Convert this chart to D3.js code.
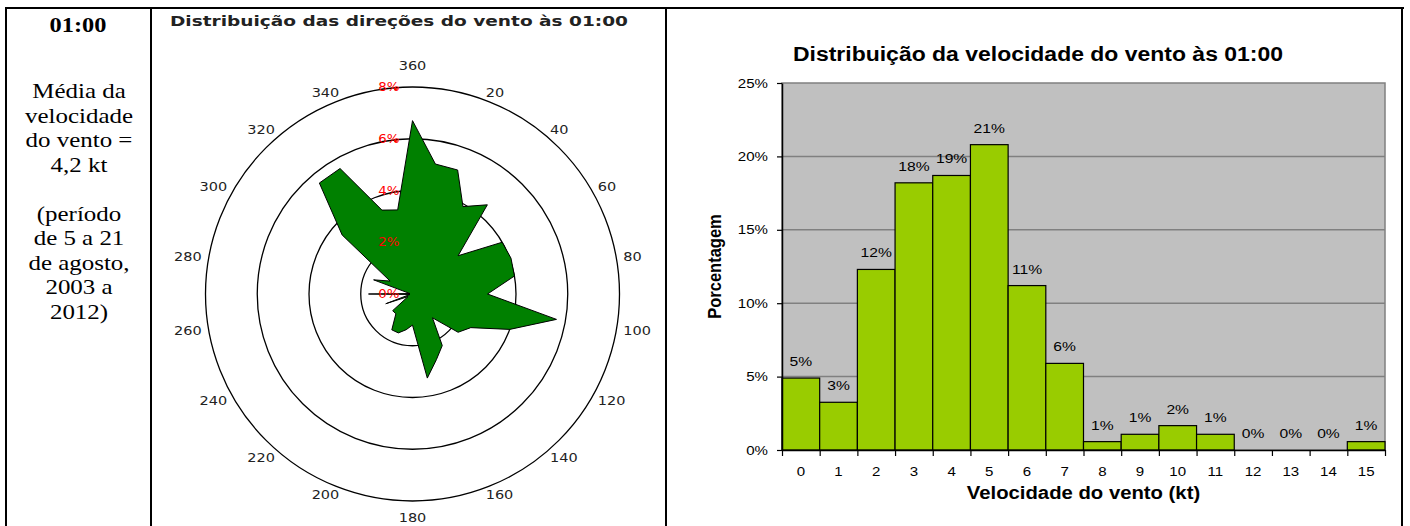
<!DOCTYPE html>
<html>
<head>
<meta charset="utf-8">
<script src="https://cdn.jsdelivr.net/npm/d3@7"></script>
<style>
  body { margin: 0; background: #fff; }
  svg { display: block; }
</style>
</head>
<body>
<script>
// ---- data ----
// wind direction distribution (%) every 10 degrees, 10 .. 360
var directions = d3.range(10, 361, 10);
var dirPercent = [5.1, 5.1, 3.9, 4.5, 2.3, 4.0, 4.05, 4.0, 2.9, 5.65,
                  4.0, 2.6, 2.3, 1.2, 2.3, 2.7, 3.3, 1.2, 1.4, 1.6,
                  1.6, 1.0, 1.0, 0.2, 1.1, 0.1, 1.7, 0.1, 1.6, 1.0,
                  3.55, 5.6, 5.6, 3.45, 3.3, 6.7];
var dirLabels = [360, 20, 40, 60, 80, 100, 120, 140, 160, 180,
                 200, 220, 240, 260, 280, 300, 320, 340];
var ringValues = [0, 2, 4, 6, 8];

// wind speed distribution (%), 0 .. 15 kt
var speeds = d3.range(0, 16);
var speedPercent = [4.9, 3.25, 12.3, 18.2, 18.7, 20.8, 11.2, 5.9,
                    0.57, 1.07, 1.66, 1.07, 0, 0, 0, 0.57];
var yTicks = [0, 5, 10, 15, 20, 25];

var infoTitle = "01:00";
var infoLines = ["Média da", "velocidade", "do vento =", "4,2 kt", "",
                 "(período", "de 5 a 21", "de agosto,", "2003 a", "2012)"];

var radarTitle = "Distribuição das direções do vento às 01:00";
var barTitle = "Distribuição da velocidade do vento às 01:00";

// the picture is a bit wider than tall, so text gets a small horizontal stretch
var SX = 1.16;
function stretched(sel, x, y) {
    return sel.attr("transform", "translate(" + x + "," + y + ") scale(" + SX + ",1)");
}

var svg = d3.select("body").append("svg")
    .attr("width", 1410)
    .attr("height", 526);

// ---- table frame ----
var frame = svg.append("g").attr("stroke", "#000").attr("stroke-width", 2);
frame.append("line").attr("x1", 5).attr("x2", 1404).attr("y1", 8).attr("y2", 8);
[6, 151, 666, 1402].forEach(function(x) {
    frame.append("line").attr("x1", x).attr("x2", x).attr("y1", 7).attr("y2", 526);
});

// ---- left info cell ----
var info = svg.append("g")
    .attr("font-family", "'Liberation Serif', 'Times New Roman', serif")
    .attr("text-anchor", "middle")
    .attr("fill", "#000");

stretched(info.append("text"), 78, 32)
    .attr("font-size", 21).attr("font-weight", "bold")
    .text(infoTitle);

info.selectAll(".line")
    .data(infoLines)
    .enter()
    .append("text")
    .attr("class", "line")
    .attr("font-size", 21.5)
    .attr("transform", function(d, i) {
        return "translate(79," + (98 + i * 24.5) + ") scale(" + SX + ",1)";
    })
    .text(function(d) { return d; });

// ---- radar (wind direction) ----
var cx = 412.5, cy = 294;
var rScale = d3.scaleLinear().domain([0, 8]).range([0, 207]);

var radar = svg.append("g");

radar.append("text")
    .attr("x", 170).attr("y", 26)
    .attr("font-family", "'DejaVu Sans', Verdana, sans-serif")
    .attr("font-size", 14.5).attr("font-weight", "bold")
    .attr("fill", "#222")
    .attr("textLength", 458)
    .attr("lengthAdjust", "spacingAndGlyphs")
    .text(radarTitle);

radar.selectAll(".ring")
    .data(ringValues.filter(function(v) { return v > 0; }))
    .enter()
    .append("circle")
    .attr("class", "ring")
    .attr("cx", cx).attr("cy", cy)
    .attr("r", function(d) { return rScale(d); })
    .attr("fill", "none")
    .attr("stroke", "#000")
    .attr("stroke-width", 1.3);

var radial = d3.lineRadial()
    .angle(function(d) { return d.dir * Math.PI / 180; })
    .radius(function(d) { return rScale(d.v); })
    .curve(d3.curveLinearClosed);

var dirData = directions.map(function(d, i) { return {dir: d, v: dirPercent[i]}; });

radar.append("path")
    .attr("transform", "translate(" + cx + "," + cy + ")")
    .attr("d", radial(dirData))
    .attr("fill", "#008000")
    .attr("stroke", "#000")
    .attr("stroke-width", 1);

// direction labels around the outer ring
radar.selectAll(".dirlab")
    .data(dirLabels)
    .enter()
    .append("text")
    .attr("class", "dirlab")
    .attr("font-family", "'DejaVu Sans', Verdana, sans-serif")
    .attr("font-size", 12.5)
    .attr("fill", "#222")
    .attr("text-anchor", function(d) {
        var a = d % 360;
        if (a === 0 || a === 180) return "middle";
        return a < 180 ? "start" : "end";
    })
    .attr("transform", function(d) {
        var a = (d % 360) * Math.PI / 180;
        var r = rScale(8) + 7;
        var x = cx + r * Math.sin(a);
        var y = cy - r * Math.cos(a) + 4;
        if (d % 360 === 0) y -= 14;
        if (d === 180) y += 10;
        return "translate(" + x + "," + y + ") scale(" + SX + ",1)";
    })
    .text(function(d) { return d; });

// red percentage labels on the north axis
radar.selectAll(".pct")
    .data(ringValues)
    .enter()
    .append("text")
    .attr("class", "pct")
    .attr("font-family", "'DejaVu Sans', Verdana, sans-serif")
    .attr("font-size", 11.5)
    .attr("fill", "#ff0000")
    .attr("text-anchor", "end")
    .attr("transform", function(d) {
        return "translate(" + (cx - 13) + "," + (cy - rScale(d) + 4) + ") scale(" + SX + ",1)";
    })
    .text(function(d) { return d + "%"; });

radar.selectAll(".pctdot")
    .data(ringValues.filter(function(v) { return v > 4; }))
    .enter()
    .append("circle")
    .attr("cx", cx - 17)
    .attr("cy", function(d) { return cy - rScale(d) + 2; })
    .attr("r", 1.5)
    .attr("fill", "#ff0000");

// ---- bar chart (wind speed) ----
var x = d3.scaleBand().domain(speeds).range([782, 1385]).padding(0);
var xLin = d3.scaleLinear().domain([0, speeds.length]).range([782, 1385]);
var y = d3.scaleLinear().domain([0, 25]).range([450, 83]);

var bar = svg.append("g")
    .attr("font-family", "'Liberation Sans', Arial, sans-serif");

stretched(bar.append("text"), 1038, 61)
    .attr("text-anchor", "middle")
    .attr("font-size", 19.8)
    .attr("font-weight", "bold")
    .text(barTitle);

bar.append("rect")
    .attr("x", 782).attr("y", y(25))
    .attr("width", 1385 - 782).attr("height", y(0) - y(25))
    .attr("fill", "#c0c0c0")
    .attr("stroke", "#808080")
    .attr("stroke-width", 1.5);

bar.selectAll(".grid")
    .data(yTicks.filter(function(t) { return t > 0 && t < 25; }))
    .enter()
    .append("line")
    .attr("x1", 782).attr("x2", 1385)
    .attr("y1", function(d) { return y(d); })
    .attr("y2", function(d) { return y(d); })
    .attr("stroke", "#808080")
    .attr("stroke-width", 1.5);

bar.selectAll(".bar")
    .data(speeds)
    .enter()
    .append("rect")
    .attr("class", "bar")
    .attr("x", function(d) { return x(d); })
    .attr("y", function(d, i) { return y(speedPercent[i]); })
    .attr("width", x.bandwidth())
    .attr("height", function(d, i) { return y(0) - y(speedPercent[i]); })
    .attr("fill", "#99cc00")
    .attr("stroke", "#000")
    .attr("stroke-width", 1.2);

bar.selectAll(".vlab")
    .data(speeds)
    .enter()
    .append("text")
    .attr("class", "vlab")
    .attr("font-size", 13.5)
    .attr("fill", "#000")
    .attr("text-anchor", "middle")
    .attr("transform", function(d, i) {
        return "translate(" + (x(d) + x.bandwidth() / 2) + "," + (y(speedPercent[i]) - 12) + ") scale(" + SX + ",1)";
    })
    .text(function(d, i) { return Math.round(speedPercent[i]) + "%"; });

function styleAxis(g) {
    g.select(".domain").attr("stroke", "#000").attr("stroke-width", 1.5);
    g.selectAll(".tick line").attr("stroke", "#000").attr("stroke-width", 1.2);
    g.selectAll("text")
        .attr("font-family", "'Liberation Sans', Arial, sans-serif")
        .attr("font-size", 13)
        .attr("fill", "#000")
        .attr("x", function() { return (+this.getAttribute("x") || 0) / SX; })
        .attr("transform", "scale(" + SX + ",1)");
}

bar.append("g")
    .attr("transform", "translate(782,0)")
    .call(d3.axisLeft(y).tickValues(yTicks)
        .tickFormat(function(d) { return d + "%"; })
        .tickSize(5).tickSizeOuter(0).tickPadding(9))
    .call(styleAxis);

bar.append("g")
    .attr("transform", "translate(0," + y(0) + ")")
    .call(d3.axisBottom(xLin).tickValues(d3.range(speeds.length + 1))
        .tickFormat("").tickSize(6).tickSizeOuter(0))
    .call(styleAxis);

bar.append("g")
    .attr("transform", "translate(0," + y(0) + ")")
    .call(d3.axisBottom(x).tickSize(0).tickPadding(17))
    .call(styleAxis)
    .call(function(g) { g.select(".domain").remove(); });

bar.append("text")
    .attr("transform", "translate(714," + ((y(0) + y(25)) / 2) + ") scale(" + SX + ",1) rotate(-90)")
    .attr("text-anchor", "middle")
    .attr("dy", "0.35em")
    .attr("font-size", 16.5)
    .attr("font-weight", "bold")
    .text("Porcentagem");

stretched(bar.append("text"), (782 + 1385) / 2, 499)
    .attr("text-anchor", "middle")
    .attr("font-size", 17.5)
    .attr("font-weight", "bold")
    .text("Velocidade do vento (kt)");
</script>
</body>
</html>
